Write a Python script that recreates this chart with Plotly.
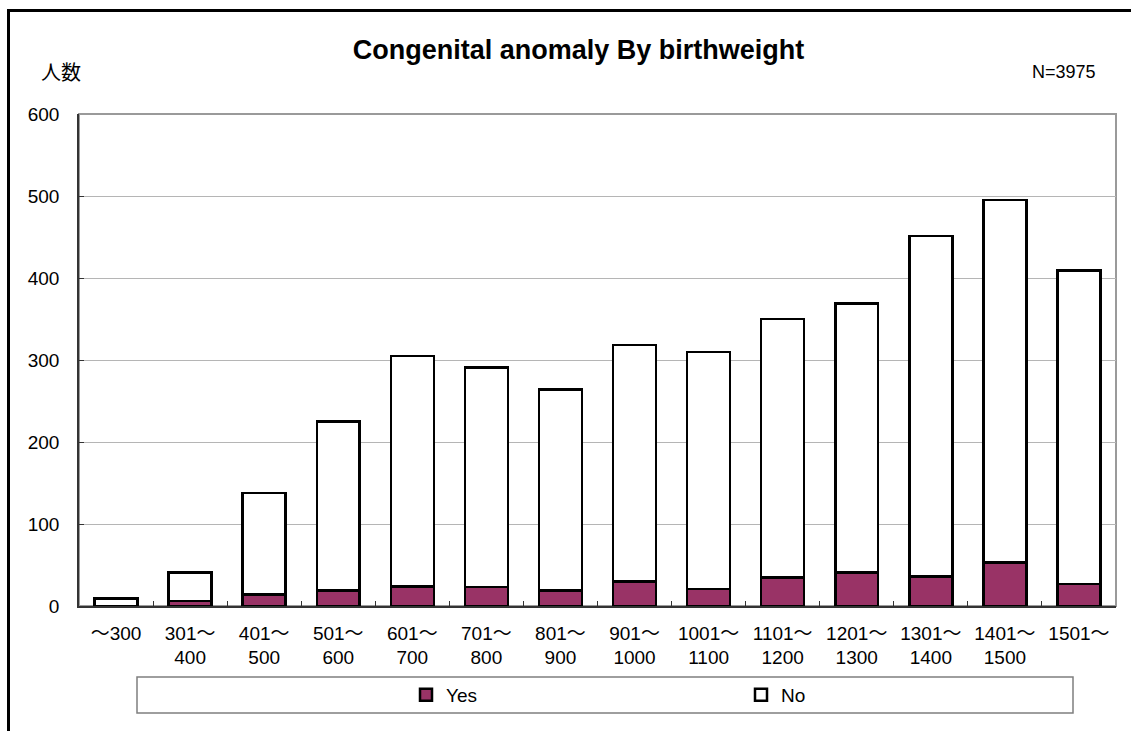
import plotly.graph_objects as go

# Birthweight bands (grams) and counts of infants with / without a congenital anomaly
categories = ["～300", "301～<br>400", "401～<br>500", "501～<br>600", "601～<br>700",
              "701～<br>800", "801～<br>900", "901～<br>1000", "1001～<br>1100",
              "1101～<br>1200", "1201～<br>1300", "1301～<br>1400", "1401～<br>1500",
              "1501～"]
yes_counts = [0, 6, 14, 19, 24, 23, 19, 30, 21, 35, 41, 36, 53, 27]
no_counts = [9, 35, 124, 206, 281, 268, 245, 288, 289, 315, 328, 415, 442, 382]
y_ticks = [0, 100, 200, 300, 400, 500, 600]

FONT = "Liberation Sans, Arial, Noto Sans CJK JP, sans-serif"
PLUM = "#993366"

# plot area in pixels: x 79..1116, y 114..606
W, H = 1131, 731
L, R, T, B = 79, W - 1116, 114, H - 606
PW, PH = W - L - R, H - T - B


def px_x(x):
    return (x - L) / PW


def px_y(y):
    return (H - B - y) / PH


fig = go.Figure()
fig.add_trace(go.Bar(
    name="Yes", x=categories, y=yes_counts,
    marker=dict(color=PLUM, line=dict(color="black", width=2.5)),
))
fig.add_trace(go.Bar(
    name="No", x=categories, y=no_counts,
    marker=dict(color="white", line=dict(color="black", width=2.5)),
))

shapes = [
    # outer frame
    dict(type="rect", xref="paper", yref="paper",
         x0=px_x(8.5), x1=px_x(1145), y0=px_y(745), y1=px_y(10.5),
         line=dict(color="black", width=3), fillcolor="rgba(0,0,0,0)", layer="below"),
    # plot area frame (top / right)
    dict(type="rect", xref="paper", yref="paper", x0=0, x1=1, y0=0, y1=1,
         line=dict(color="#9a9a9a", width=2), fillcolor="rgba(0,0,0,0)", layer="below"),
    # legend box
    dict(type="rect", xref="paper", yref="paper",
         x0=px_x(137), x1=px_x(1073), y0=px_y(713), y1=px_y(677),
         line=dict(color="#7f7f7f", width=1.5), fillcolor="white", layer="below"),
]

fig.update_layout(
    width=W, height=H,
    margin=dict(l=L, r=R, t=T, b=B, pad=0),
    barmode="stack", bargap=0.42,
    paper_bgcolor="white", plot_bgcolor="white",
    font=dict(family=FONT, size=19, color="black"),
    title=dict(text="<b>Congenital anomaly By birthweight</b>",
               x=578.5 / W, xanchor="center", y=1 - 50 / H, yanchor="middle",
               font=dict(family=FONT, size=27, color="black")),
    showlegend=True,
    legend=dict(orientation="h", x=px_x(406), xanchor="left", y=px_y(695), yanchor="middle",
                traceorder="normal", entrywidth=290, entrywidthmode="pixels",
                itemwidth=30, bgcolor="rgba(0,0,0,0)", font=dict(size=19, family=FONT)),
    shapes=shapes,
    annotations=[
        dict(text="人数", xref="paper", yref="paper", x=px_x(61), y=px_y(72),
             xanchor="center", yanchor="middle", showarrow=False,
             font=dict(family="Noto Sans CJK JP, sans-serif", size=20)),
        dict(text="N=3975", xref="paper", yref="paper", x=px_x(1098), y=px_y(72),
             xanchor="right", yanchor="middle", showarrow=False,
             font=dict(family=FONT, size=18)),
    ],
)

fig.update_xaxes(
    type="category", tickson="boundaries", ticks="inside", ticklen=5,
    tickcolor="#333333", tickwidth=1, showgrid=False,
    showline=True, linecolor="#333333", linewidth=1.5,
    ticklabelstandoff=9, tickangle=0,
    tickfont=dict(family=FONT, size=19),
)
fig.update_yaxes(
    range=[0, 600], tickvals=y_ticks, ticks="inside", ticklen=5,
    tickcolor="#333333", showgrid=True, gridcolor="#b5b5b5", gridwidth=1,
    showline=True, linecolor="#333333", linewidth=1.5, zeroline=False,
    ticklabelstandoff=14, tickfont=dict(family=FONT, size=19),
)

fig.write_html("out.html")
